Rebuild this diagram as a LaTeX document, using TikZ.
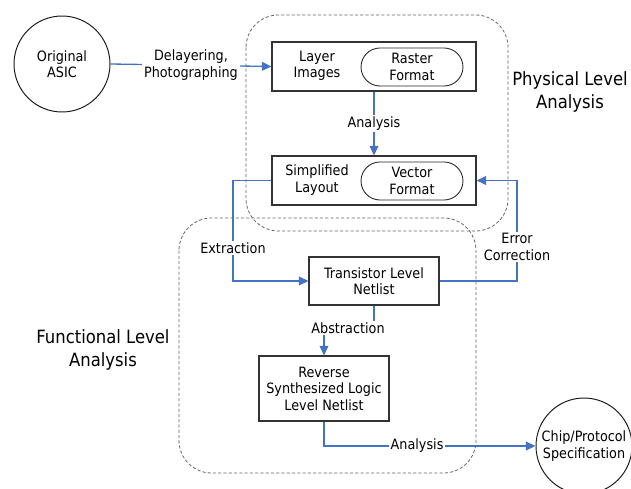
\documentclass[tikz,border=0pt]{standalone}
\usepackage{fontspec}
\setmainfont{DejaVu Sans Condensed}
\usetikzlibrary{arrows.meta}
\definecolor{azul}{HTML}{4472C4}
\newcommand{\pequeno}{\fontsize{8.1}{9.4}\selectfont}
\newcommand{\grande}{\fontsize{10.4}{13.6}\selectfont}

\begin{document}
\begin{tikzpicture}[x=0.02cm,y=-0.02cm,
  font=\pequeno,
  caixa/.style={draw=black!80,line width=0.6pt,inner sep=0pt},
  pilula/.style={draw=black!85,line width=0.5pt,rounded corners=0.38cm,
    minimum width=2.04cm,minimum height=0.76cm,align=center,inner sep=0pt},
  circulo/.style={draw=black!90,line width=0.55pt,circle,minimum size=1.92cm,
    align=center,inner sep=0pt},
  grupo/.style={draw=black!60,line width=0.45pt,dash pattern=on 1.8pt off 1.2pt,
    rounded corners=0.65cm},
  liga/.style={draw=azul,line width=0.75pt},
  seta/.style={liga,-{Triangle[length=5.5pt,width=5pt]}},
  rot/.style={fill=white,inner sep=1pt,align=center},
  texto/.style={align=center,inner sep=0pt}]

\useasboundingbox (0,0) rectangle (631,489);

% grupos
\draw[grupo] (246,15) rectangle (508,231);
\draw[grupo] (179,218) rectangle (476,473);
\node[texto,font=\grande] (fisico) at (570,92) {Physical Level\\Analysis};
\node[texto,font=\grande] (funcional) at (103,350) {Functional Level\\Analysis};

% circulos
\node[circulo] (asic) at (62,64) {Original\\ASIC};
\node[circulo] (chip) at (584,446) {Chip/Protocol\\Specification};

% caixas
\node[caixa,minimum width=4.08cm,minimum height=0.98cm] (layers) at (374,66.5) {};
\node[texto] (layerstxt) at (317,66) {Layer\\Images};
\node[pilula] (raster) at (412,67) {Raster\\Format};

\node[caixa,minimum width=4.08cm,minimum height=0.98cm] (simplified) at (374,180.5) {};
\node[texto] (simplifiedtxt) at (317,180) {Simplified\\Layout};
\node[pilula] (vector) at (412,181) {Vector\\Format};

\node[caixa,align=center,minimum width=2.6cm,minimum height=0.96cm] (transistor) at (374,281) {Transistor Level\\Netlist};
\node[caixa,align=center,minimum width=2.6cm,minimum height=1.3cm] (reverse) at (324,388.5) {Reverse\\Synthesized Logic\\Level Netlist};

% pontos das ligacoes
\coordinate (extr) at (233,248);
\coordinate (errc) at (517,247);
\coordinate (abstr) at (348,328);

% ligacoes
\draw[seta] (asic.east) -- (layers.west) node[rot,midway] (delay) {Delayering,\\Photographing};
\draw[seta] (layers.south) -- (simplified.north) node[rot,midway] (analise1) {Analysis};
\draw[seta] (simplified.west) -| (extr) node[rot] (extrlbl) {Extraction} |- (transistor.west);
\draw[seta] (transistor.east) -| (errc) node[rot] (errclbl) {Error\\Correction} |- (simplified.east);
\draw[seta] (transistor.south) |- (abstr) node[rot] (abstrlbl) {Abstraction} -| (reverse.north);
\draw[seta] (reverse.south) |- (chip.west) node[rot,pos=0.72] (analise2) {Analysis};

\end{tikzpicture}
\end{document}
